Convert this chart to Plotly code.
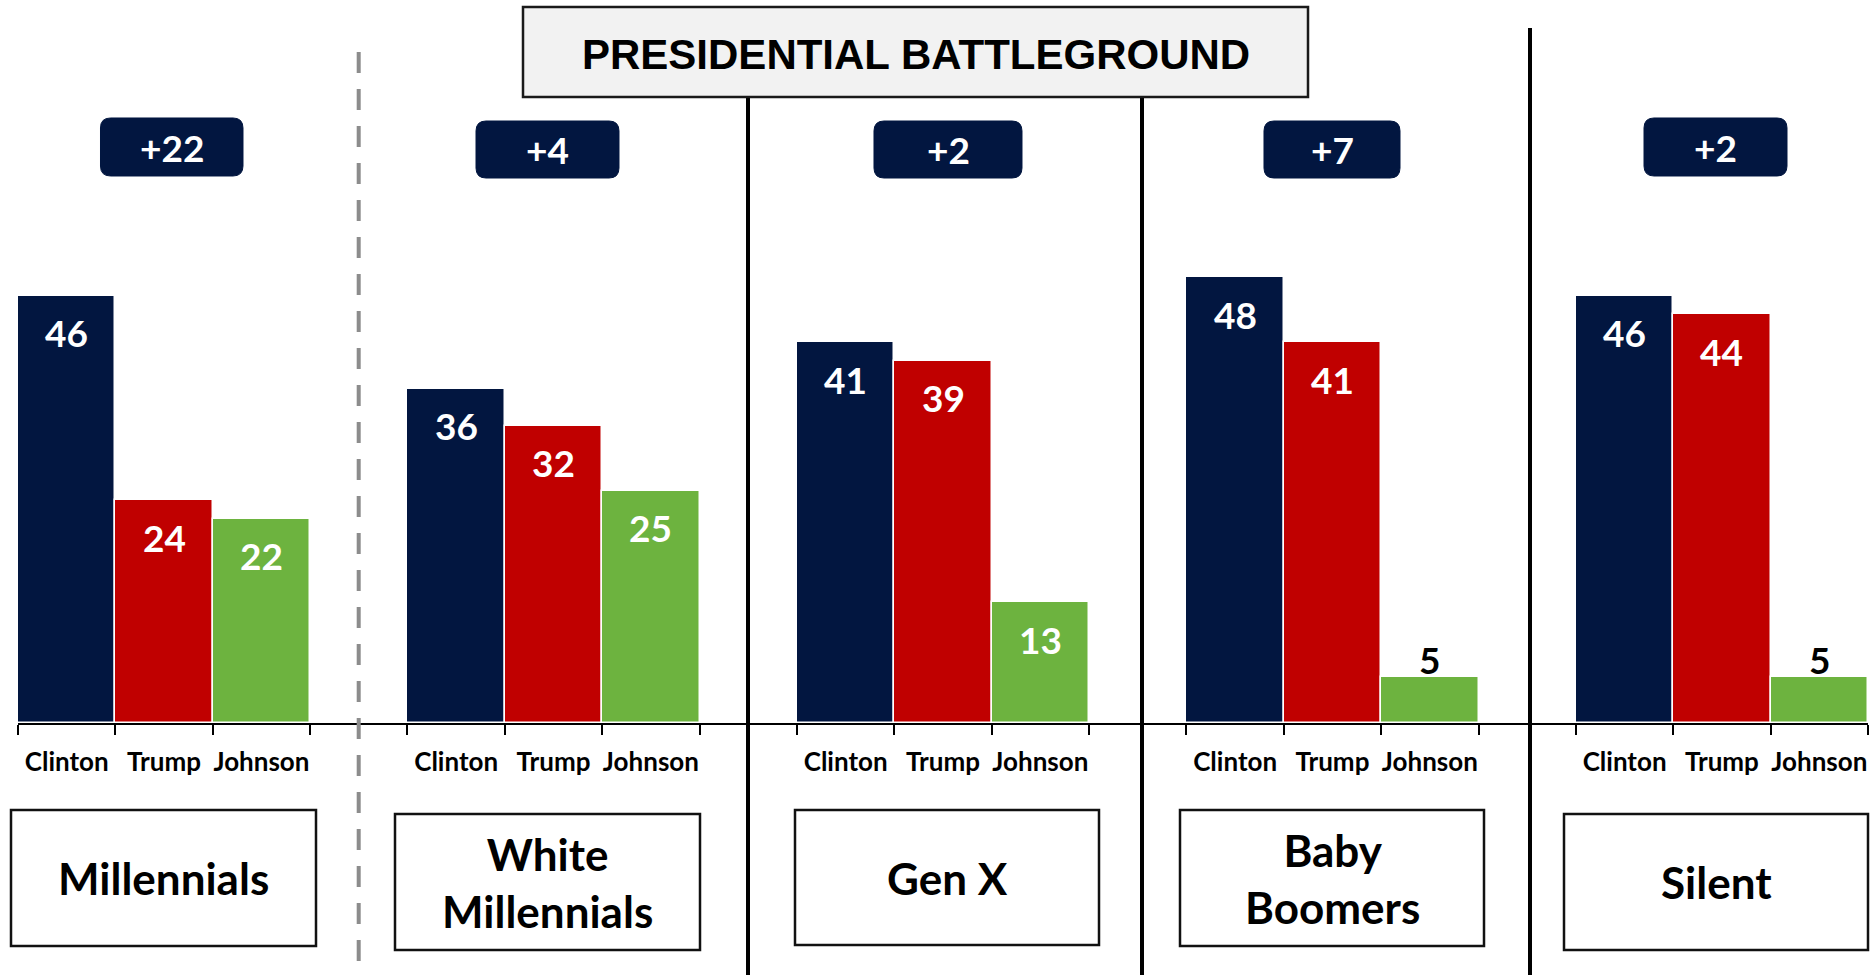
import plotly.graph_objects as go

# ---------------- data ----------------
group_labels = ["Millennials", "White<br>Millennials", "Gen X", "Baby<br>Boomers", "Silent"]
candidates = ["Clinton", "Trump", "Johnson"]
clinton = [46, 36, 41, 48, 46]
trump = [24, 32, 39, 41, 44]
johnson = [22, 25, 13, 5, 5]
title_text = "PRESIDENTIAL BATTLEGROUND"

colors = {"Clinton": "#021640", "Trump": "#C00000", "Johnson": "#6DB33F"}
series = {"Clinton": clinton, "Trump": trump, "Johnson": johnson}

# ---------------- geometry helpers (figure pixels -> paper) ----------------
W, H = 1875, 975
ML, MR, MT, MB = 18, 7, 73, 252
PW = W - ML - MR
PH = H - MT - MB


def px(xp):
    return (xp - ML) / PW


def py(yp):
    return (H - MB - yp) / PH


def rrect_path(x0, y0, x1, y1, r):
    # rounded rectangle in pixel coordinates, converted to paper coordinates
    pts = [
        ("M", [(x0 + r, y0)]),
        ("L", [(x1 - r, y0)]),
        ("Q", [(x1, y0), (x1, y0 + r)]),
        ("L", [(x1, y1 - r)]),
        ("Q", [(x1, y1), (x1 - r, y1)]),
        ("L", [(x0 + r, y1)]),
        ("Q", [(x0, y1), (x0, y1 - r)]),
        ("L", [(x0, y0 + r)]),
        ("Q", [(x0, y0), (x0 + r, y0)]),
    ]
    s = ""
    for cmd, coords in pts:
        s += cmd + " " + " ".join(f"{px(a):.5f},{py(b):.5f}" for a, b in coords) + " "
    return s + "Z"


fig = go.Figure()

ngroups = len(group_labels)
tick_vals, tick_text = [], []
for j, cand in enumerate(candidates):
    xs = [g * 4 + j for g in range(ngroups)]
    fig.add_trace(go.Bar(
        x=xs, y=series[cand], width=1, name=cand,
        marker=dict(color=colors[cand], line=dict(color="white", width=1.5)),
        showlegend=False, hoverinfo="skip",
    ))
for g in range(ngroups):
    for j, cand in enumerate(candidates):
        tick_vals.append(g * 4 + j)
        tick_text.append(cand)

boundaries = [b - 0.5 for b in range(0, (ngroups - 1) * 4 + 4)]

annotations = []
# value labels
for j, cand in enumerate(candidates):
    for g, v in enumerate(series[cand]):
        inside = v >= 10
        annotations.append(dict(
            x=g * 4 + j, y=v, xref="x", yref="y", text=str(v), showarrow=False,
            yanchor="middle", yshift=-37 if inside else 17,
            font=dict(family="Lato", size=37, color="white" if inside else "black", weight="bold"),
        ))

shapes = []
# separators
shapes.append(dict(type="line", xref="paper", yref="paper", x0=px(358.7), x1=px(358.7),
                   y0=py(52), y1=py(975), line=dict(color="#8C8C8C", width=4, dash="21px,16px")))
for xs_, ys_ in [(748, 97), (1142, 97), (1530, 28)]:
    shapes.append(dict(type="line", xref="paper", yref="paper", x0=px(xs_), x1=px(xs_),
                       y0=py(ys_), y1=py(975), line=dict(color="black", width=4)))

# title box
shapes.append(dict(type="rect", xref="paper", yref="paper", x0=px(523), x1=px(1308),
                   y0=py(7), y1=py(97), fillcolor="#F2F2F2", line=dict(color="#1A1A1A", width=2.5)))
annotations.append(dict(x=px(916), y=py(54), xref="paper", yref="paper", text=title_text,
                        showarrow=False, xanchor="center", yanchor="middle",
                        font=dict(family="Liberation Sans", size=42, color="black", weight="bold")))

# margin badges
badge_boxes = [(100.5, 118, 243, 176), (476, 121, 619, 178), (874, 121, 1022, 178),
               (1264, 121, 1400, 178), (1644, 118, 1787, 176)]
for g, (x0, y0, x1, y1) in enumerate(badge_boxes):
    lead = clinton[g] - trump[g]
    shapes.append(dict(type="path", xref="paper", yref="paper", path=rrect_path(x0, y0, x1, y1, 10),
                       fillcolor="#021640", line=dict(color="#021640", width=1)))
    annotations.append(dict(x=px((x0 + x1) / 2), y=py((y0 + y1) / 2), xref="paper", yref="paper",
                            text=f"+{lead}", showarrow=False, xanchor="center", yanchor="middle",
                            font=dict(family="Lato", size=37, color="white", weight="bold")))

# group label boxes
label_boxes = [(11, 810, 316, 946), (395, 814, 700, 950), (795, 810, 1099, 945),
               (1180, 810, 1484, 946), (1564, 814, 1868, 950)]
for g, (x0, y0, x1, y1) in enumerate(label_boxes):
    shapes.append(dict(type="rect", xref="paper", yref="paper", x0=px(x0), x1=px(x1),
                       y0=py(y0), y1=py(y1), fillcolor="white", line=dict(color="#111111", width=2.5)))
    annotations.append(dict(x=px((x0 + x1) / 2), y=py((y0 + y1) / 2), xref="paper", yref="paper",
                            text=group_labels[g], showarrow=False, xanchor="center", yanchor="middle",
                            font=dict(family="Lato", size=44, color="black", weight="bold")))

fig.update_layout(
    width=W, height=H, margin=dict(l=ML, r=MR, t=MT, b=MB),
    paper_bgcolor="white", plot_bgcolor="white",
    barmode="overlay", bargap=0,
    shapes=shapes, annotations=annotations,
    xaxis=dict(range=[-0.5, (ngroups - 1) * 4 + 2.5], tickmode="array", tickvals=tick_vals,
               ticktext=tick_text, ticks="", tickangle=0, showgrid=False, zeroline=False,
               showline=True, linecolor="black", linewidth=2, ticklabelstandoff=15,
               tickfont=dict(family="Lato", size=26, color="black", weight="bold"),
               minor=dict(tickmode="array", tickvals=boundaries, ticks="outside", ticklen=10,
                          tickwidth=2, tickcolor="black", showgrid=False)),
    yaxis=dict(range=[0, 70], visible=False, showgrid=False, zeroline=False),
)

fig.write_html("out.html", config={"displayModeBar": False},
               post_script="document.body.style.margin='0';document.body.style.overflow='hidden';")
